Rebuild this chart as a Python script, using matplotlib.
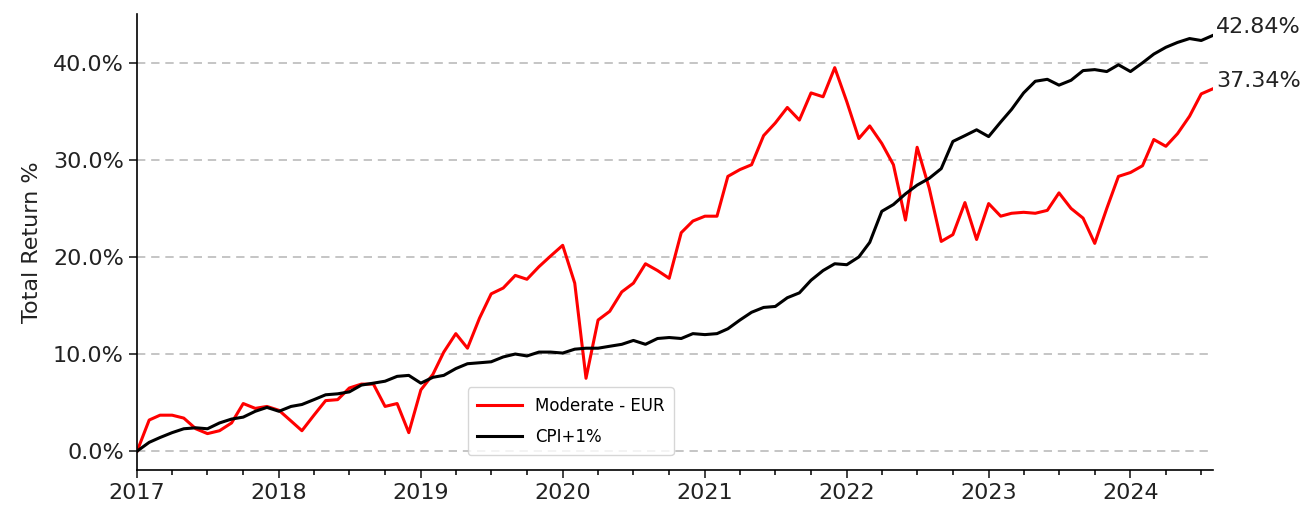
import numpy as np
import pandas as pd
import matplotlib
matplotlib.use("Agg")
from matplotlib import pyplot as plt
import matplotlib.dates as mdates
from matplotlib.ticker import FuncFormatter, MultipleLocator

start_month = "2017-01-01"
n_months = 92

moderate_eur = [0.0, 3.2, 3.7, 3.7, 3.4, 2.3, 1.8, 2.1, 2.9, 4.9, 4.4, 4.6,
                4.2, 3.1, 2.1, 3.7, 5.2, 5.3, 6.5, 6.9, 6.9, 4.6, 4.9, 1.9,
                6.3, 7.9, 10.2, 12.1, 10.6, 13.7, 16.2, 16.8, 18.1, 17.7, 19.0, 20.1,
                21.2, 17.3, 7.5, 13.5, 14.4, 16.4, 17.3, 19.3, 18.6, 17.8, 22.5, 23.7,
                24.2, 24.2, 28.3, 29.0, 29.5, 32.5, 33.8, 35.4, 34.1, 36.9, 36.5, 39.5,
                36.0, 32.2, 33.5, 31.7, 29.5, 23.8, 31.3, 27.1, 21.6, 22.3, 25.6, 21.8,
                25.5, 24.2, 24.5, 24.6, 24.5, 24.8, 26.6, 25.0, 24.0, 21.4, 25.0, 28.3,
                28.7, 29.4, 32.1, 31.4, 32.7, 34.5, 36.8, 37.34]

cpi_plus_1 = [0.0, 0.9, 1.4, 1.9, 2.3, 2.4, 2.3, 2.9, 3.3, 3.5, 4.1, 4.5,
              4.1, 4.6, 4.8, 5.3, 5.8, 5.9, 6.1, 6.8, 7.0, 7.2, 7.7, 7.8,
              7.0, 7.6, 7.8, 8.5, 9.0, 9.1, 9.2, 9.7, 10.0, 9.8, 10.2, 10.2,
              10.1, 10.5, 10.6, 10.6, 10.8, 11.0, 11.4, 11.0, 11.6, 11.7, 11.6, 12.1,
              12.0, 12.1, 12.6, 13.5, 14.3, 14.8, 14.9, 15.8, 16.3, 17.6, 18.6, 19.3,
              19.2, 20.0, 21.5, 24.7, 25.4, 26.5, 27.4, 28.1, 29.1, 31.9, 32.5, 33.1,
              32.4, 33.9, 35.2, 36.9, 38.1, 38.3, 37.7, 38.2, 39.2, 39.3, 39.1, 39.8,
              39.1, 40.0, 40.9, 41.6, 42.1, 42.5, 42.3, 42.84]

series_labels = ["Moderate - EUR", "CPI+1%"]
series_colors = ["#ff0000", "#000000"]

dates = pd.date_range(start_month, periods=n_months, freq="MS")

fig = plt.figure(figsize=(13.06, 5.11), dpi=100)
ax = fig.add_axes([0.105, 0.080, 0.824, 0.893])

for values, label, color in zip([moderate_eur, cpi_plus_1], series_labels, series_colors):
    ax.plot(dates, values, color=color, linewidth=2.2, label=label)
    ax.annotate(f"{values[-1]:.2f}%", xy=(dates[-1], values[-1]),
                xytext=(3, 8), textcoords="offset pixels",
                ha="left", va="center", fontsize=16, color="#222222")

ax.set_xlim(dates[0], dates[-1])
ax.set_ylim(-1.96, 45.05)

ax.yaxis.set_major_locator(MultipleLocator(10))
ax.yaxis.set_major_formatter(FuncFormatter(lambda v, p: f"{v:.1f}%"))
ax.xaxis.set_major_locator(mdates.YearLocator())
ax.xaxis.set_major_formatter(mdates.DateFormatter("%Y"))
ax.xaxis.set_minor_locator(mdates.MonthLocator(bymonth=[1, 4, 7, 10]))

ax.grid(axis="y", linestyle=(0, (5, 3.5)), color="#bbbbbb", linewidth=1.2)
ax.set_axisbelow(True)

ax.spines["top"].set_visible(False)
ax.spines["right"].set_visible(False)
ax.spines["left"].set_linewidth(1.2)
ax.spines["bottom"].set_linewidth(1.2)

ax.tick_params(axis="both", which="major", labelsize=16, length=6, width=1.2, colors="#222222")
ax.tick_params(axis="x", which="minor", length=3.5, width=1.1)
ax.set_ylabel("Total Return %", fontsize=16, color="#222222", labelpad=8)

ax.legend(loc="lower left", bbox_to_anchor=(0.307, 0.033), borderaxespad=0,
          fontsize=12, handlelength=2.7, labelspacing=0.8, borderpad=0.55,
          edgecolor="#cccccc")

fig.savefig("out.png", dpi=100)
